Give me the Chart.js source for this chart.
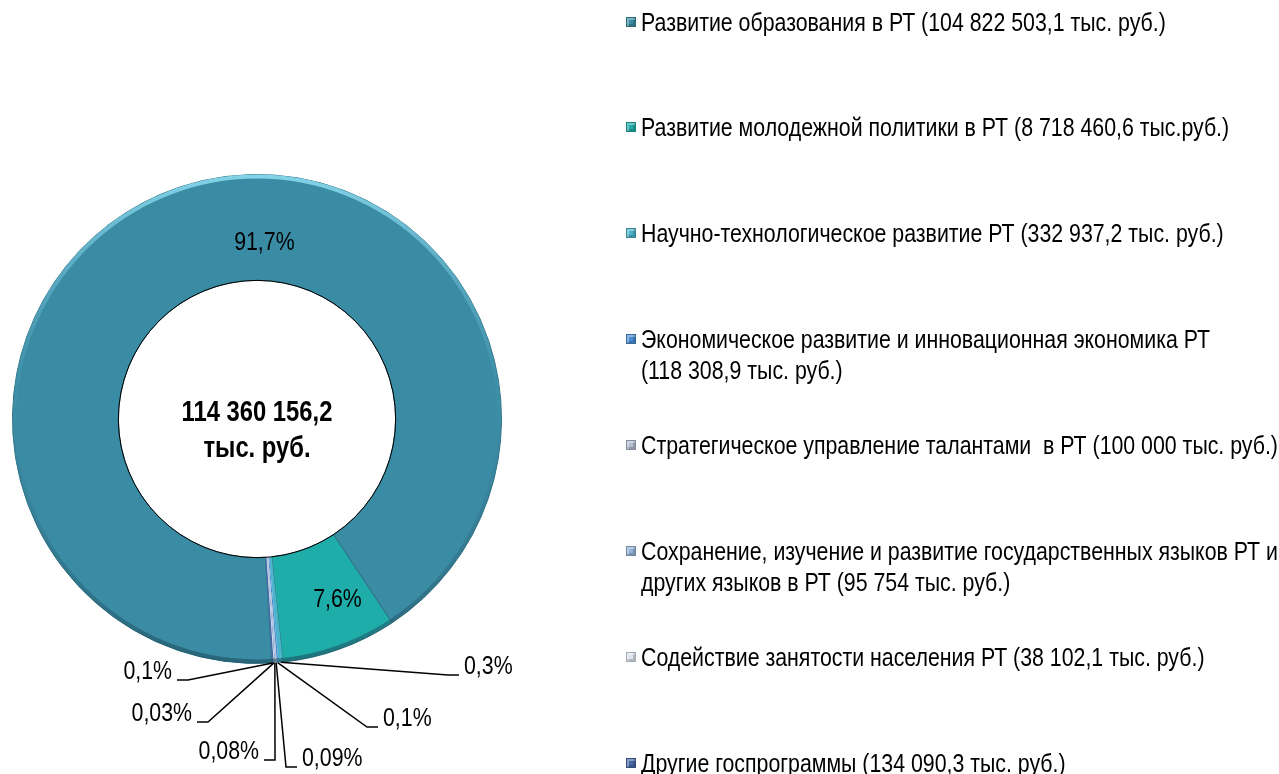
<!DOCTYPE html>
<html lang="ru">
<head>
<meta charset="utf-8">
<title>Госпрограммы РТ</title>
<script src="https://cdn.jsdelivr.net/npm/chart.js@4.4.1/dist/chart.umd.min.js"></script>
<style>
  html, body { margin: 0; padding: 0; background: #fff; }
  #wrap { position: relative; width: 1279px; height: 774px; overflow: hidden; }
  #programChart { position: absolute; left: 0; top: 0; }
  .legend-item {
    position: absolute;
    left: 626px;
    font-family: "Liberation Sans", Arial, sans-serif;
    font-size: 26px;
    line-height: 31px;
    color: #000;
    white-space: pre;
  }
  .legend-box {
    position: absolute;
    left: 0;
    top: 10px;
    width: 10px;
    height: 10px;
    box-sizing: border-box;
    border: 1px solid rgba(0, 0, 0, 0.25);
    box-shadow: inset 2px 2px 0 rgba(255, 255, 255, 0.35), inset -2px -2px 0 rgba(0, 0, 0, 0.2);
  }
  /* Arial Narrow look: regular face squeezed */
  .legend-text { margin-left: 15px; transform: scaleX(0.82); transform-origin: left top; }
</style>
</head>
<body>
<div id="wrap">
  <canvas id="programChart" width="1279" height="774"></canvas>
  <div id="legend"></div>
</div>
<script>
// data
var categories = [
    "Развитие образования в РТ (104 822 503,1 тыс. руб.)",
    "Развитие молодежной политики в РТ (8 718 460,6 тыс.руб.)",
    "Научно-технологическое развитие РТ (332 937,2 тыс. руб.)",
    "Экономическое развитие и инновационная экономика РТ\n(118 308,9 тыс. руб.)",
    "Стратегическое управление талантами  в РТ (100 000 тыс. руб.)",
    "Сохранение, изучение и развитие государственных языков РТ и\nдругих языков в РТ (95 754 тыс. руб.)",
    "Содействие занятости населения РТ (38 102,1 тыс. руб.)",
    "Другие госпрограммы (134 090,3 тыс. руб.)"
];
var amounts = [104822503.1, 8718460.6, 332937.2, 118308.9, 100000, 95754, 38102.1, 134090.3];
var shareLabels = ["91,7%", "7,6%", "0,3%", "0,1%", "0,09%", "0,08%", "0,03%", "0,1%"];
var totalUnit = "тыс. руб.";

// styles
var sliceColors = ["#3A8CA5", "#1FADAA", "#4BB4CB", "#4A8FD6", "#B3BED3", "#94B6DA", "#DDE4EE", "#4668A6"];
var fontFamily = '"Liberation Sans", Arial, sans-serif';
var squeeze = 0.82;

// where the percent labels go: ring labels by angle/radius, small ones by leader line
var labelSpots = [
    { angle: 2.4, r: 176 },
    { angle: 156, r: 198 },
    { dx: 191, dy: 256, side: 1 },
    { dx: 110, dy: 308, side: 1 },
    { dx: 29, dy: 348, side: 1 },
    { dx: 18, dy: 341, side: -1 },
    { dx: -49, dy: 303, side: -1 },
    { dx: -69, dy: 261, side: -1 }
];

function formatRu(v) {
    var parts = v.toFixed(1).split(".");
    return parts[0].replace(/\B(?=(\d{3})+(?!\d))/g, " ") + "," + parts[1];
}

// narrow text on canvas
function narrowText(ctx, text, x, y, align) {
    ctx.save();
    ctx.translate(x, y);
    ctx.scale(squeeze, 1);
    ctx.textAlign = align;
    ctx.fillText(text, 0, 0);
    ctx.restore();
}

var ringLabels = {
    id: "ringLabels",
    afterDatasetsDraw: function (chart) {
        var ctx = chart.ctx;
        var arcs = chart.getDatasetMeta(0).data;
        var cx = arcs[0].x, cy = arcs[0].y;
        var inner = arcs[0].innerRadius, outer = arcs[0].outerRadius;
        var total = amounts.reduce(function (a, b) { return a + b; }, 0);

        ctx.save();
        // bevel-ish rim
        var rim = ctx.createLinearGradient(0, cy - outer, 0, cy + outer);
        rim.addColorStop(0, "rgba(140,220,240,0.9)");
        rim.addColorStop(0.45, "rgba(70,150,175,0.3)");
        rim.addColorStop(1, "rgba(25,70,85,0.55)");
        ctx.beginPath();
        ctx.arc(cx, cy, outer - 2, 0, Math.PI * 2);
        ctx.lineWidth = 4;
        ctx.strokeStyle = rim;
        ctx.stroke();

        ctx.beginPath();
        ctx.arc(cx, cy, inner, 0, Math.PI * 2);
        ctx.lineWidth = 1;
        ctx.strokeStyle = "#000";
        ctx.stroke();

        ctx.fillStyle = "#000";
        ctx.textBaseline = "middle";
        ctx.font = "bold 29px " + fontFamily;
        narrowText(ctx, formatRu(total), cx, cy - 6, "center");
        narrowText(ctx, totalUnit, cx, cy + 30, "center");

        ctx.font = "26px " + fontFamily;
        ctx.lineWidth = 1.5;
        arcs.forEach(function (arc, i) {
            var spot = labelSpots[i];
            if (spot.angle !== undefined) {
                var a = spot.angle * Math.PI / 180;
                narrowText(ctx, shareLabels[i], cx + spot.r * Math.sin(a), cy - spot.r * Math.cos(a), "center");
                return;
            }
            var mid = (arc.startAngle + arc.endAngle) / 2;
            var sx = cx + Math.cos(mid) * arc.outerRadius;
            var sy = cy + Math.sin(mid) * arc.outerRadius;
            var ex = cx + spot.dx, ey = cy + spot.dy;
            var tx = ex + spot.side * 11;
            ctx.beginPath();
            ctx.moveTo(sx, sy);
            ctx.lineTo(ex, ey);
            ctx.lineTo(tx, ey);
            ctx.stroke();
            narrowText(ctx, shareLabels[i], tx + spot.side * 5, ey - 8, spot.side > 0 ? "left" : "right");
        });
        ctx.restore();
    }
};

// legend as html on the right
var legendEl = document.getElementById("legend");
categories.forEach(function (label, i) {
    var item = document.createElement("div");
    item.className = "legend-item";
    item.style.top = (22 + i * 105.9 - 15.5) + "px";
    var box = document.createElement("span");
    box.className = "legend-box";
    box.style.background = sliceColors[i];
    var text = document.createElement("div");
    text.className = "legend-text";
    text.textContent = label;
    item.appendChild(box);
    item.appendChild(text);
    legendEl.appendChild(item);
});

var ctx = document.getElementById("programChart").getContext("2d");
var programChart = new Chart(ctx, {
    type: "doughnut",
    data: {
        labels: categories,
        datasets: [
            {
                data: amounts,
                backgroundColor: sliceColors,
                borderColor: "#2E6E82",
                borderWidth: [1, 1, 0, 0, 0, 0, 0, 0],
                hoverOffset: 0
            }
        ]
    },
    options: {
        responsive: false,
        animation: false,
        rotation: 176.5,
        cutout: "56.7%",
        layout: {
            padding: { left: 12, top: 174, right: 777, bottom: 110 }
        },
        plugins: {
            legend: { display: false },
            tooltip: { enabled: false }
        }
    },
    plugins: [ringLabels]
});
</script>
</body>
</html>
